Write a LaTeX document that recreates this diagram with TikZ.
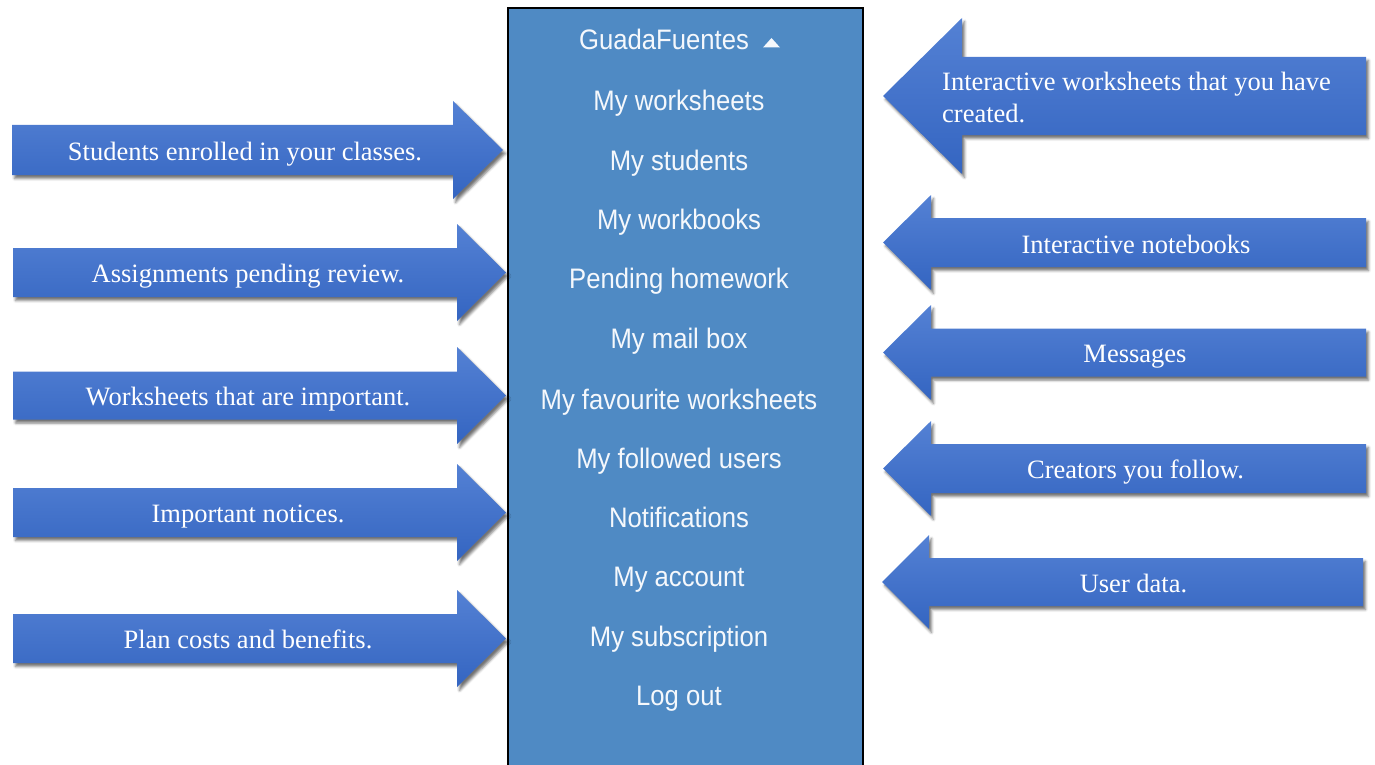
\documentclass[tikz,border=0pt]{standalone}
\usepackage{fontspec}
\setmainfont{Liberation Serif}
\newfontfamily\menufont[FakeStretch=0.91]{Liberation Sans}
\usetikzlibrary{shadows.blur}
\definecolor{menublue}{RGB}{79,138,196}
\definecolor{arrtop}{RGB}{84,129,212}
\definecolor{arrbot}{RGB}{52,101,193}
\definecolor{menutext}{RGB}{245,248,252}
\tikzset{
  arrowfill/.style={top color=arrtop, bottom color=arrbot,
    blur shadow={shadow xshift=2.5pt, shadow yshift=-3.5pt, shadow blur radius=2.5pt, shadow opacity=55}},
  arrowtext/.style={anchor=base, text=white, inner sep=0pt, font=\fontsize{26.5}{32}\selectfont},
  menuitem/.style={anchor=base, text=menutext, inner sep=0pt, font=\menufont\fontsize{28.2}{32}\selectfont},
  menubox/.style={fill=menublue}
}
% #1 body end x, #2 head base x, #3 tip x, #4 centre y, #5 body half height, #6 head half height
\newcommand{\blockarrow}[6]{\path[arrowfill] (#1,#4-#5) -- (#2,#4-#5) -- (#2,#4-#6) -- (#3,#4) -- (#2,#4+#6) -- (#2,#4+#5) -- (#1,#4+#5) -- cycle;}
\begin{document}
\begin{tikzpicture}[x=1pt,y=-1pt]
\useasboundingbox (0,0) rectangle (1375,765);
% menu panel
\path[menubox] (508,8) rectangle (863,770);
\draw[line width=2pt] (508,770) -- (508,8) -- (863,8) -- (863,770);
\node[menuitem] (m0) at (664,50) {GuadaFuentes};
\path[fill=menutext] (763,47.5) -- (780,47.5) -- (771.5,38) -- cycle;
\node[menuitem] (m1) at (679,111) {My worksheets};
\node[menuitem] (m2) at (679,170) {My students};
\node[menuitem] (m3) at (679,229) {My workbooks};
\node[menuitem] (m4) at (679,288) {Pending homework};
\node[menuitem] (m5) at (679,348) {My mail box};
\node[menuitem] (m6) at (679,409) {My favourite worksheets};
\node[menuitem] (m7) at (679,468) {My followed users};
\node[menuitem] (m8) at (679,527) {Notifications};
\node[menuitem] (m9) at (679,586) {My account};
\node[menuitem] (m10) at (679,646) {My subscription};
\node[menuitem] (m11) at (679,705) {Log out};
% left arrows
\blockarrow{12}{453}{503}{150}{25}{49}
\node[arrowtext] (l1) at (245,160) {Students enrolled in your classes.};
\blockarrow{13}{457}{506}{272.5}{24.5}{48.5}
\node[arrowtext] (l2) at (248,282.5) {Assignments pending review.};
\blockarrow{13}{457}{506}{395.5}{24}{48.5}
\node[arrowtext] (l3) at (248,405.5) {Worksheets that are important.};
\blockarrow{13}{457}{506}{512.5}{24.5}{48.5}
\node[arrowtext] (l4) at (248,522.5) {Important notices.};
\blockarrow{13}{457}{506}{638.5}{24.5}{48.5}
\node[arrowtext] (l5) at (248,648.5) {Plan costs and benefits.};
% right arrows
\blockarrow{1366}{962}{883}{96}{39}{78}
\node[arrowtext, anchor=base west] (r1a) at (942,91) {Interactive worksheets that you have};
\node[arrowtext, anchor=base west] (r1b) at (942,123) {created.};
\blockarrow{1366}{931}{883}{242.5}{24.5}{47.5}
\node[arrowtext] (r2) at (1136,253) {Interactive notebooks};
\blockarrow{1366}{931}{883}{352.5}{24}{47.5}
\node[arrowtext] (r3) at (1135,362.5) {Messages};
\blockarrow{1366}{931}{883}{468.5}{24.5}{47.5}
\node[arrowtext] (r4) at (1135.5,478.5) {Creators you follow.};
\blockarrow{1363}{929}{882}{582}{24}{47}
\node[arrowtext] (r5) at (1133.5,592) {User data.};
\end{tikzpicture}
\end{document}
